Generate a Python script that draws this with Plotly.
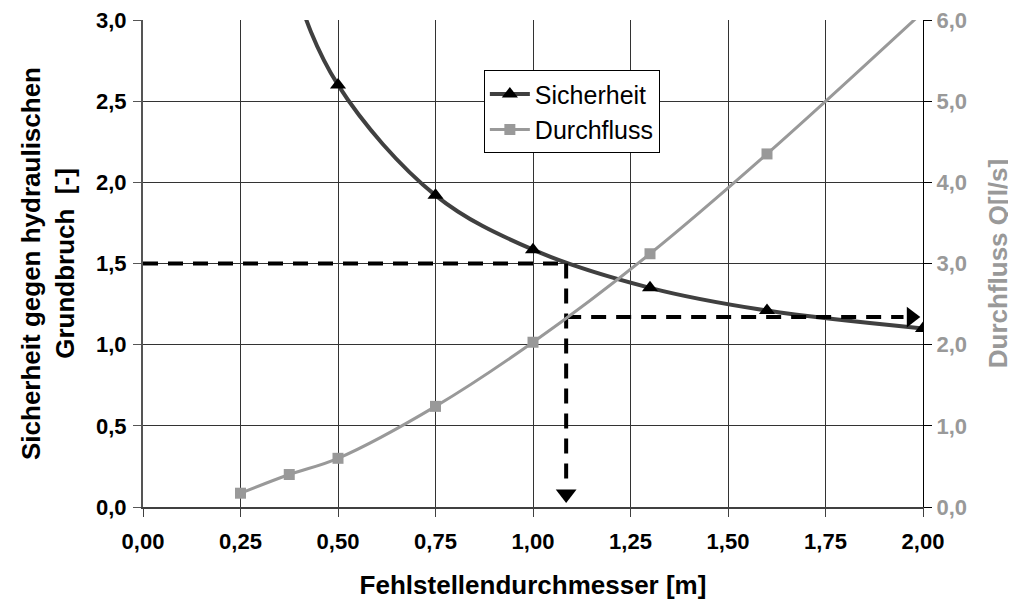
import plotly.graph_objects as go

# ---- data ----
diameter = [0.25, 0.375, 0.5, 0.75, 1.0, 1.3, 1.6, 2.0]
sicherheit = [4.5, 3.3, 2.6, 1.92, 1.585, 1.35, 1.21, 1.10]
durchfluss = [0.17, 0.40, 0.60, 1.24, 2.03, 3.12, 4.35, 6.1]

x_ticks = [0, 0.25, 0.5, 0.75, 1.0, 1.25, 1.5, 1.75, 2.0]
y_ticks = [0, 0.5, 1.0, 1.5, 2.0, 2.5, 3.0]
y2_ticks = [0, 1, 2, 3, 4, 5, 6]

# reading guide (dashed arrows)
guide1_x = [0.0, 1.085]
guide1_y = [1.5, 1.5]
guide2_x = [1.085, 1.085]
guide2_y = [1.5, 0.12]
guide3_x = [1.085, 1.95]
guide3_y = [1.17, 1.17]
arrow_down = (1.085, 0.08)
arrow_right = (1.97, 1.17)

FONT = "Liberation Sans, Arial, sans-serif"

fig = go.Figure()

fig.add_trace(go.Scatter(
    x=diameter, y=sicherheit, name="Sicherheit", mode="lines+markers",
    line=dict(color="#404040", width=4, shape="spline", smoothing=1.0),
    marker=dict(symbol="triangle-up", size=14, color="black"),
    yaxis="y"))

fig.add_trace(go.Scatter(
    x=diameter, y=durchfluss, name="Durchfluss", mode="lines+markers",
    line=dict(color="#999999", width=3, shape="spline", smoothing=1.0),
    marker=dict(symbol="square", size=11, color="#999999"),
    yaxis="y2"))

dash_style = dict(color="black", width=4, dash="15px,10px")
for gx, gy in [(guide1_x, guide1_y), (guide2_x, guide2_y), (guide3_x, guide3_y)]:
    fig.add_trace(go.Scatter(x=gx, y=gy, mode="lines", line=dash_style,
                             showlegend=False, hoverinfo="skip", yaxis="y"))

fig.add_trace(go.Scatter(x=[arrow_down[0]], y=[arrow_down[1]], mode="markers",
                         marker=dict(symbol="triangle-down", size=18, color="black"),
                         showlegend=False, hoverinfo="skip", yaxis="y"))
fig.add_trace(go.Scatter(x=[arrow_right[0]], y=[arrow_right[1]], mode="markers",
                         marker=dict(symbol="triangle-right", size=18, color="black"),
                         showlegend=False, hoverinfo="skip", yaxis="y"))

fig.update_layout(
    width=1008, height=592,
    margin=dict(l=135, r=93, t=12, b=93, autoexpand=False),
    paper_bgcolor="white", plot_bgcolor="white",
    separators=",.",
    font=dict(family=FONT, color="black"),
    showlegend=True,
    legend=dict(x=0.437, y=0.897, xanchor="left", yanchor="top",
                bgcolor="white", bordercolor="black", borderwidth=1,
                font=dict(size=25, family=FONT), tracegroupgap=0,
                itemwidth=40),
    xaxis=dict(range=[0, 2.0], tickvals=x_ticks, tickformat=".2f",
               automargin=False, ticklabeloverflow="allow",
               showgrid=True, gridcolor="#333333", gridwidth=1,
               showline=True, linecolor="#404040", linewidth=2,
               ticks="outside", ticklen=8, tickcolor="#404040",
               ticklabelstandoff=6,
               tickfont=dict(size=22, family=FONT, weight="bold"),
               title=dict(text="Fehlstellendurchmesser [m]", standoff=26,
                          font=dict(size=26, family=FONT, weight="bold")),
               zeroline=False),
    yaxis=dict(range=[0, 3.0], tickvals=y_ticks, tickformat=".1f",
               automargin=False, ticklabeloverflow="allow",
               showgrid=True, gridcolor="#333333", gridwidth=1,
               showline=True, linecolor="#555555", linewidth=2,
               ticks="outside", ticklen=8, tickcolor="#555555",
               ticklabelstandoff=2,
               tickfont=dict(size=22, family=FONT, weight="bold"),
               title=dict(text="Sicherheit gegen hydraulischen<br>Grundbruch  [-]",
                          standoff=14,
                          font=dict(size=26, family=FONT, weight="bold")),
               zeroline=False),
    yaxis2=dict(range=[0, 6.0], tickvals=y2_ticks, tickformat=".1f",
                automargin=False, ticklabeloverflow="allow",
                overlaying="y", side="right", showgrid=False,
                showline=True, linecolor="black", linewidth=1,
                ticks="outside", ticklen=8, tickcolor="black",
                tickfont=dict(size=22, family=FONT, weight="bold", color="#999999"),
                title=dict(text="Durchfluss Q[l/s]", standoff=22,
                           font=dict(size=26, family=FONT, weight="bold", color="#999999")),
                zeroline=False),
)

fig.write_html("out.html")
